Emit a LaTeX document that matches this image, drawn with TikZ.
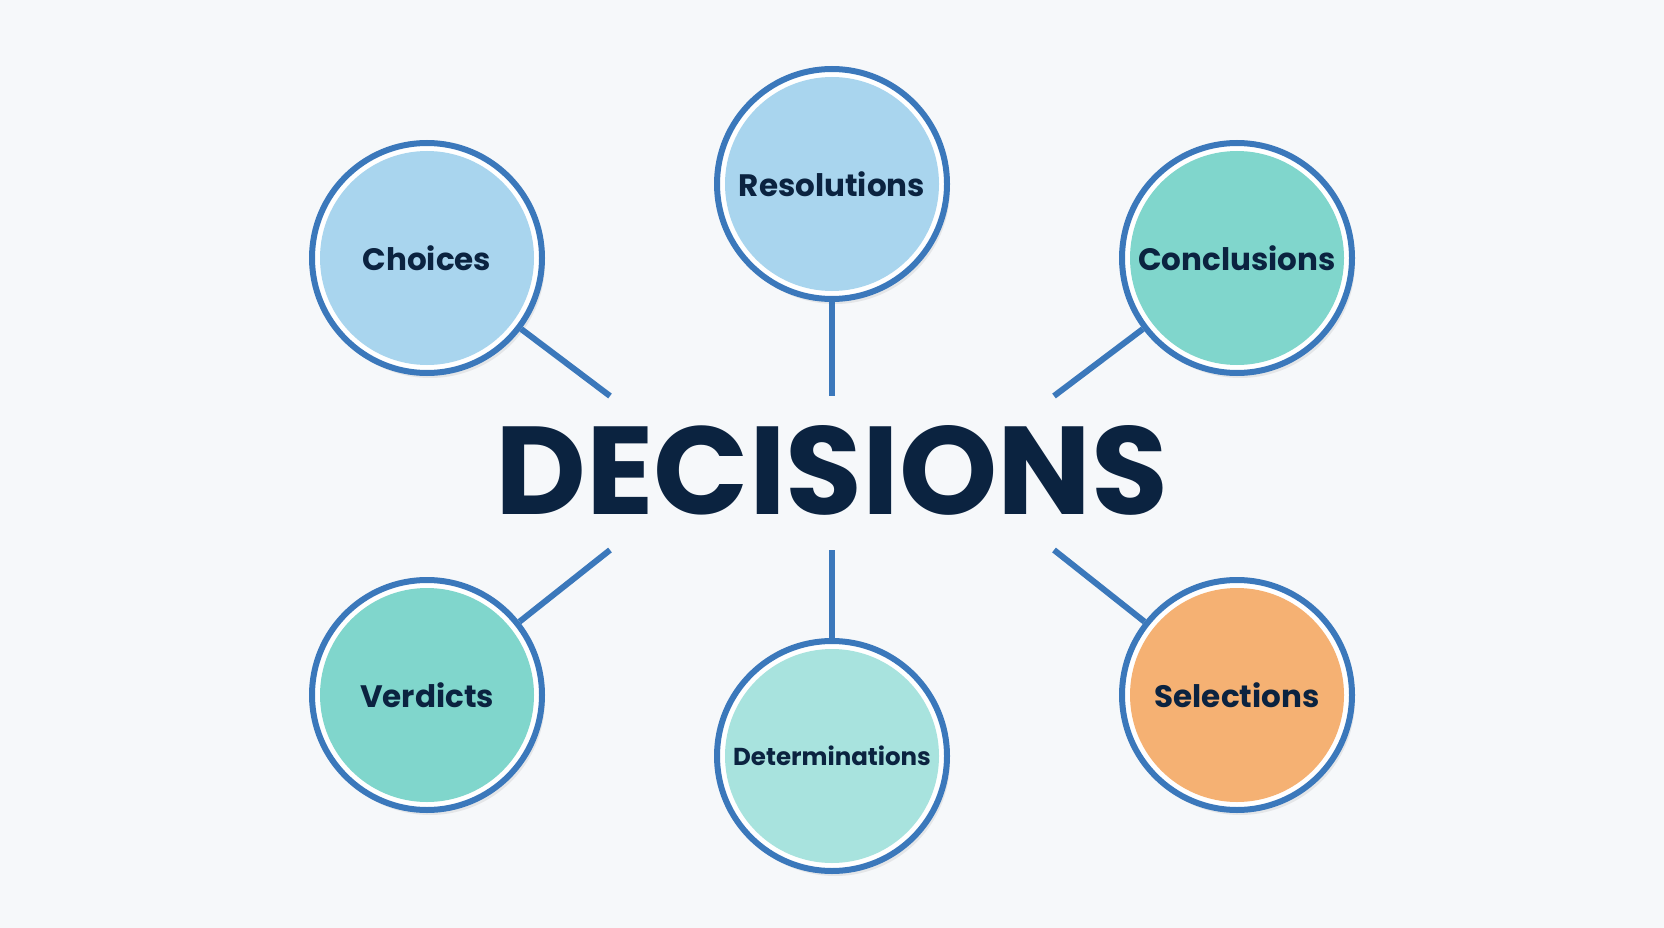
\documentclass[tikz,border=0pt]{standalone}
\usepackage{fontspec}
\setmainfont{Poppins}
\usetikzlibrary{shadows}
\definecolor{bg}{HTML}{F6F8FA}
\definecolor{ring}{HTML}{3B78BB}
\definecolor{navy}{HTML}{0B2340}
\definecolor{lblue}{HTML}{A9D5EE}
\definecolor{teal}{HTML}{80D6CC}
\definecolor{lteal}{HTML}{A8E3DE}
\definecolor{orng}{HTML}{F5B173}
\tikzset{
  bubble/.style={circle, draw=ring, line width=6pt, fill=white, minimum size=230pt,
    inner sep=0pt, text=navy, font=\bfseries\fontsize{31}{34}\selectfont,
    drop shadow={shadow xshift=3pt, shadow yshift=-5pt, opacity=0.10, fill=black!70},
    path picture={\fill[#1] (path picture bounding box.center) circle (107pt);}},
  link/.style={draw=ring, line width=6pt}
}
\begin{document}
\begin{tikzpicture}[x=1pt,y=-1pt]
\fill[bg] (0,0) rectangle (1664,928);
\useasboundingbox (0,0) rectangle (1664,928);
\node[bubble=lblue] (choices) at (427,258) {Choices};
\node[bubble=lblue] (resol) at (832,184) {Resolutions};
\node[bubble=teal] (concl) at (1237,258) {Conclusions};
\node[bubble=teal] (verd) at (427,695) {Verdicts};
\node[bubble=lteal, font=\bfseries\fontsize{24.5}{28}\selectfont] (determ) at (832,756) {Determinations};
\node[bubble=orng] (select) at (1237,695) {Selections};
\node[text=navy, font=\bfseries\fontsize{125}{128}\selectfont, inner sep=0pt] (dec) at (832,470) {DECISIONS};
\coordinate (p1) at (610,396);
\coordinate (p2) at (832,396);
\coordinate (p3) at (1054,396);
\coordinate (p4) at (610,550);
\coordinate (p5) at (832,550);
\coordinate (p6) at (1054,550);
\draw[link] (choices) -- (p1);
\draw[link] (resol) -- (p2);
\draw[link] (concl) -- (p3);
\draw[link] (verd) -- (p4);
\draw[link] (determ) -- (p5);
\draw[link] (select) -- (p6);
\end{tikzpicture}
\end{document}
